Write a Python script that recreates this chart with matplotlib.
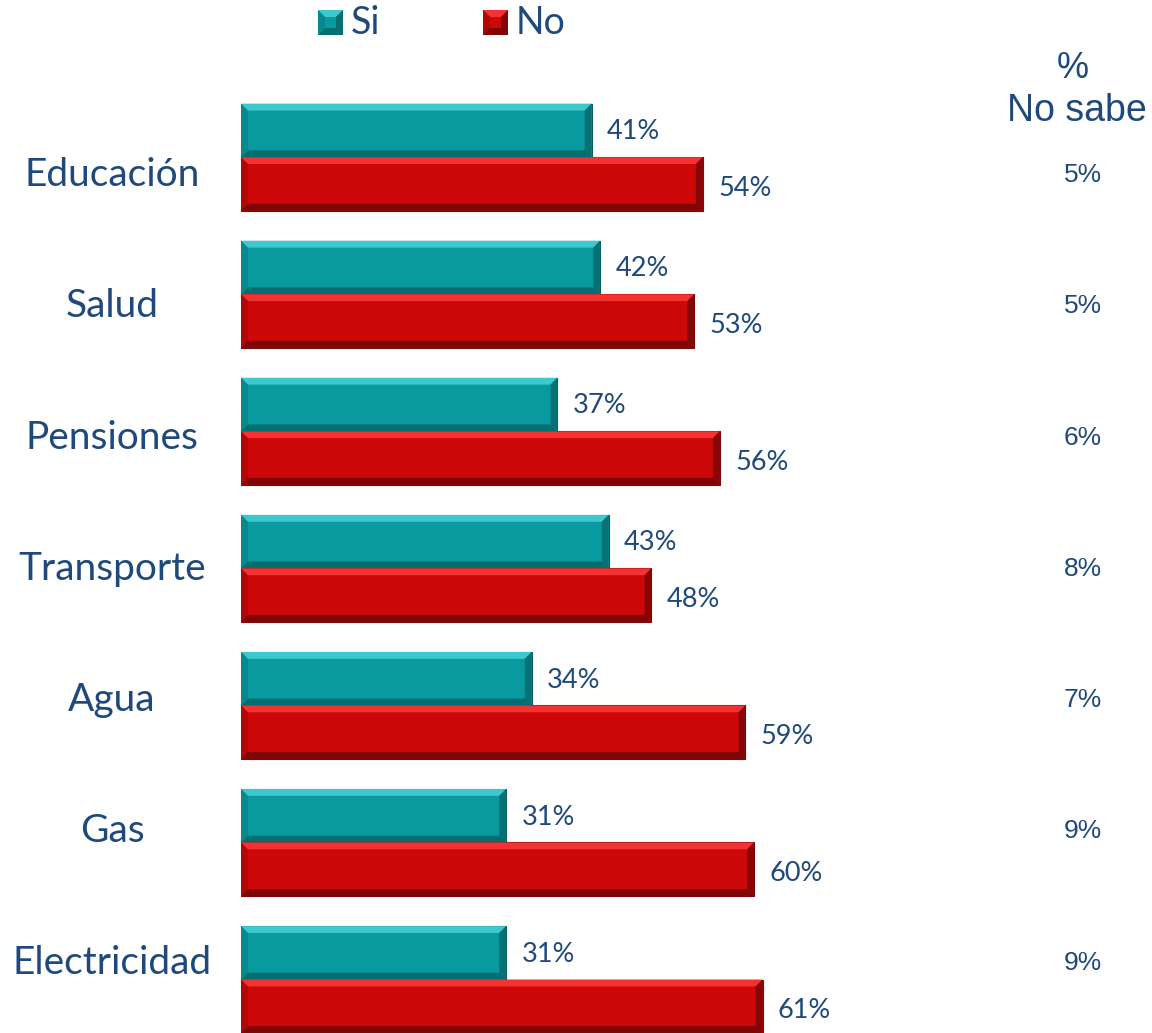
import matplotlib.pyplot as plt
from matplotlib.patches import Polygon
import numpy as np

categorias = ["Educación", "Salud", "Pensiones", "Transporte", "Agua", "Gas", "Electricidad"]
si = [41, 42, 37, 43, 34, 31, 31]
no = [54, 53, 56, 48, 59, 60, 61]
no_sabe = [5, 5, 6, 8, 7, 9, 9]

txt_color = "#1F497D"
teal = "#089A9E"
red = "#CC0808"
font_cat = "Lato"
font_num = "Liberation Sans"

fig = plt.figure(figsize=(11.52, 10.33), dpi=100)
W, H = 1152, 1033
ax = fig.add_axes([241 / W, 0, (1100 - 241) / W, (1033 - 90) / H])
ax.set_xlim(0, (1100 - 241) / 8.55)
ax.set_ylim(6.39, -0.49)
ax.axis("off")

h = 0.39
pos = np.arange(len(categorias))


def bevel_pts(x0, y0, x1, y1, dx, dy):
    top = [(x0, y0), (x1, y0), (x1 - dx, y0 + dy), (x0 + dx, y0 + dy)]
    bot = [(x0, y1), (x1, y1), (x1 - dx, y1 - dy), (x0 + dx, y1 - dy)]
    right = [(x1, y0), (x1, y1), (x1 - dx, y1 - dy), (x1 - dx, y0 + dy)]
    left = [(x0, y0), (x0, y1), (x0 + dx, y1 - dy), (x0 + dx, y0 + dy)]
    return top, bot, right, left


def bevel(ax, y0, width, height, light, dark, side):
    # rough imitation of the 3D bevel look
    top, bot, right, left = bevel_pts(0, y0, width, y0 + height, 0.8, 0.05)
    ax.add_patch(Polygon(top, closed=True, fc=light, ec="none", zorder=3))
    ax.add_patch(Polygon(bot, closed=True, fc=dark, ec="none", zorder=3))
    ax.add_patch(Polygon(right, closed=True, fc=dark, ec="none", zorder=4, alpha=0.9))
    ax.add_patch(Polygon(left, closed=True, fc=side, ec="none", zorder=4))


bars_si = ax.barh(pos - h / 2, si, height=h, color=teal, edgecolor="#0A5F62", linewidth=0.8, zorder=2)
bars_no = ax.barh(pos + h / 2, no, height=h, color=red, edgecolor="#7A0A0A", linewidth=0.8, zorder=2)

for b in bars_si:
    bevel(ax, b.get_y(), b.get_width(), b.get_height(), "#3CC8CC", "#066E71", "#07888B")
for b in bars_no:
    bevel(ax, b.get_y(), b.get_width(), b.get_height(), "#F53232", "#7E0606", "#B00707")

for i in range(len(categorias)):
    ax.text(si[i] + 1.8, pos[i] - h / 2 + 0.01, f"{si[i]}%", va="center", ha="left",
            fontsize=19.5, color=txt_color, family=font_cat)
    ax.text(no[i] + 1.8, pos[i] + h / 2 + 0.03, f"{no[i]}%", va="center", ha="left",
            fontsize=19.5, color=txt_color, family=font_cat)
    # category and "no sabe" labels sit on their own, slightly tighter spacing
    ypix = 175 + 131.3 * i
    fig.text(112 / W, 1 - ypix / H, categorias[i], va="center", ha="center",
             fontsize=28, color=txt_color, family=font_cat)
    fig.text(1083 / W, 1 - ypix / H, f"{no_sabe[i]}%", va="center", ha="center",
             fontsize=19, color=txt_color, family=font_num)

fig.text(1073 / W, 1 - 68 / H, "%", ha="center", va="center", fontsize=26,
         color=txt_color, family=font_num)
fig.text(1077 / W, 1 - 111 / H, "No sabe", ha="center", va="center", fontsize=27,
         color=txt_color, family=font_num)

# legend drawn by hand: bevelled squares + labels
leg = [("Si", 318, teal, "#3CC8CC", "#066E71", "#07888B"),
       ("No", 483, red, "#F53232", "#7E0606", "#B00707")]
for lab, xl, fc, light, dark, side in leg:
    x0, x1 = xl / W, (xl + 25) / W
    y0, y1 = 1 - 10 / H, 1 - 35 / H
    dx, dy = 7 / W, -7 / H
    fig.patches.append(Polygon([(x0, y0), (x1, y0), (x1, y1), (x0, y1)], closed=True,
                               fc=fc, ec="none", transform=fig.transFigure, figure=fig))
    top, bot, right, left = bevel_pts(x0, y0, x1, y1, dx, dy)
    for pts, c in [(top, light), (bot, dark), (right, dark), (left, side)]:
        fig.patches.append(Polygon(pts, closed=True, fc=c, ec="none",
                                   transform=fig.transFigure, figure=fig))
    fig.text((xl + 33) / W, 1 - 23 / H, lab, ha="left", va="center", fontsize=27,
             color=txt_color, family=font_cat)

fig.savefig("out.png", dpi=100)
